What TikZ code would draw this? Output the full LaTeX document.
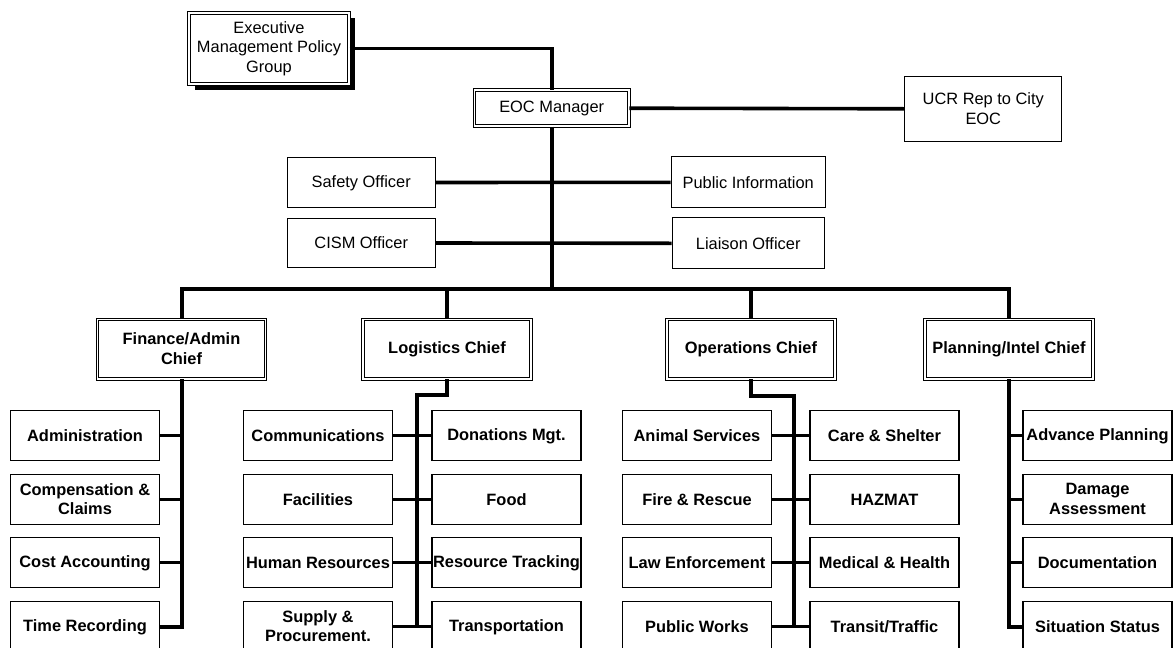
\documentclass[tikz,border=0pt]{standalone}
\usepackage{fontspec}
\setmainfont{Liberation Sans}
\usetikzlibrary{shadows}
% invisible rules that centre the cap height of each label in its box
\newcommand\labelTop{\rule{0pt}{12.5pt}}
\newcommand\labelBot{\rule[-0.8pt]{0pt}{0.8pt}}
\begin{document}
\begin{tikzpicture}[x=1pt,y=-1pt,
  txt/.style={font=\fontsize{16.4}{19.5}\selectfont,
              execute at begin node=\labelTop, execute at end node=\labelBot},
  plainbox/.style={txt, draw=black, line width=1.1pt, fill=white, inner sep=0pt, align=center},
  subbox/.style={plainbox, minimum width=149pt, minimum height=50pt, font=\fontsize{16.4}{19.5}\selectfont\bfseries},
  dblbox/.style={txt, draw=black, line width=0.9pt, double=white, double distance=1.8pt,
                 fill=white, inner sep=0pt, align=center},
  chief/.style={dblbox, minimum width=168pt, minimum height=59.4pt, font=\fontsize{16.4}{19.5}\selectfont\bfseries},
  conn/.style={line width=3.6pt, line join=miter},
  trunk/.style={line width=4pt, line join=miter}]

\useasboundingbox (0,0) rectangle (1173,648);

% top of the organisation
\node[dblbox, minimum width=160.4pt, minimum height=71.4pt,
      drop shadow={shadow xshift=6pt, shadow yshift=-5.5pt, fill=black, opacity=1}]
      (exec) at (269,48.5) {Executive\\Management Policy\\Group};
\node[dblbox, minimum width=154.4pt, minimum height=36.1pt] (eoc) at (551.7,108.2) {EOC Manager};
\node[plainbox, minimum width=157pt, minimum height=65.3pt] (ucr) at (983.3,108.8) {UCR Rep to City\\EOC};

% command staff
\node[plainbox, minimum width=148pt, minimum height=49.4pt] (safety) at (361.2,182.5) {Safety Officer};
\node[plainbox, minimum width=154pt, minimum height=51pt] (pubinfo) at (748.2,182.3) {Public Information};
\node[plainbox, minimum width=148pt, minimum height=49.6pt] (cism) at (361.2,243) {CISM Officer};
\node[plainbox, minimum width=152pt, minimum height=51pt] (liaison) at (748.2,243.3) {Liaison Officer};

% section chiefs
\node[chief] (fin)  at (181.5,349.2) {Finance/Admin\\Chief};
\node[chief] (log)  at (447,349.2)   {Logistics Chief};
\node[chief] (ops)  at (751,349.2)   {Operations Chief};
\node[chief] (plan) at (1009,349.2)  {Planning/Intel Chief};

% finance units
\node[subbox] (fa1) at (85,435.5) {Administration};
\node[subbox] (fa2) at (85,499.5) {Compensation \&\\Claims};
\node[subbox] (fa3) at (85,562.5) {Cost Accounting};
\node[subbox] (fa4) at (85,626.5) {Time Recording};

% logistics units
\node[subbox] (ll1) at (318,435.5) {Communications};
\node[subbox] (ll2) at (318,499.5) {Facilities};
\node[subbox] (ll3) at (318,562.5) {Human Resources};
\node[subbox] (ll4) at (318,626.5) {Supply \&\\Procurement.};
\node[subbox] (lr1) at (506.5,435.5) {Donations Mgt.};
\node[subbox] (lr2) at (506.5,499.5) {Food};
\node[subbox] (lr3) at (506.5,562.5) {Resource Tracking};
\node[subbox] (lr4) at (506.5,626.5) {Transportation};

% operations units
\node[subbox] (ol1) at (697,435.5) {Animal Services};
\node[subbox] (ol2) at (697,499.5) {Fire \& Rescue};
\node[subbox] (ol3) at (697,562.5) {Law Enforcement};
\node[subbox] (ol4) at (697,626.5) {Public Works};
\node[subbox] (or1) at (884.5,435.5) {Care \& Shelter};
\node[subbox] (or2) at (884.5,499.5) {HAZMAT};
\node[subbox] (or3) at (884.5,562.5) {Medical \& Health};
\node[subbox] (or4) at (884.5,626.5) {Transit/Traffic};

% planning units
\node[subbox] (pl1) at (1097.5,435.5) {Advance Planning};
\node[subbox] (pl2) at (1097.5,499.5) {Damage\\Assessment};
\node[subbox] (pl3) at (1097.5,562.5) {Documentation};
\node[subbox] (pl4) at (1097.5,626.5) {Situation Status};

% upper connectors
\draw[conn] (exec.east) -| (eoc.north);
\draw[conn] (eoc.east) -- (ucr.west);
\coordinate (bar) at (551.7,289);
\draw[trunk] (eoc.south) -- (bar);
\draw[conn] (safety.east) -- (pubinfo.west);
\draw[conn] (cism.east) -- (liaison.west);
\draw[trunk] (fin.north) |- (bar) -| (plan.north);
\draw[conn] (log.north) -- (log.north |- bar);
\draw[conn] (ops.north) -- (ops.north |- bar);

% finance branch
\draw[trunk] (fin.south) |- (fa4.east);
\foreach \n in {fa1,fa2,fa3} \draw[conn] (\n.east) -- (\n.east -| fin.south);

% logistics branch
\coordinate (lgA) at (447,395);
\coordinate (lgB) at (417,395);
\draw[trunk] (log.south) -- (lgA) -- (lgB) -- (lgB |- ll4.east);
\foreach \a/\b in {ll1/lr1,ll2/lr2,ll3/lr3,ll4/lr4} \draw[conn] (\a.east) -- (\b.west);

% operations branch
\coordinate (opB) at (794,396);
\draw[trunk] (ops.south) |- (opB) -- (opB |- ol4.east);
\foreach \a/\b in {ol1/or1,ol2/or2,ol3/or3,ol4/or4} \draw[conn] (\a.east) -- (\b.west);

% planning branch
\draw[trunk] (plan.south) |- (pl4.west);
\foreach \n in {pl1,pl2,pl3} \draw[conn] (\n.west) -- (\n.west -| plan.south);
\end{tikzpicture}
\end{document}
